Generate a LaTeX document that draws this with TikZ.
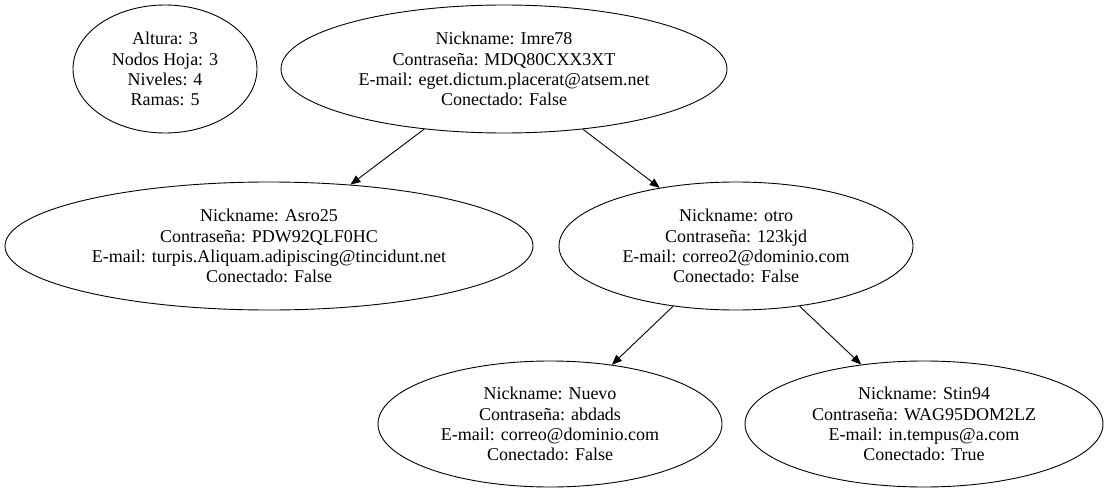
\documentclass[tikz,border=0pt]{standalone}
\usepackage{fontspec}
\setmainfont{Liberation Serif}
\usetikzlibrary{shapes.geometric,arrows.meta}
\begin{document}
\begin{tikzpicture}[x=1pt,y=1pt,
  nd/.style={draw,ellipse,line width=0.9pt,inner sep=0pt,align=center,
    minimum height=128,font=\fontsize{18}{20.2}\selectfont},
  edge/.style={draw,line width=0.9pt,-{Triangle[length=10pt,width=8pt]}}]
\useasboundingbox (0,0) rectangle (1107,491);
\node[nd,minimum width=184] (stats) at (165,422) {Altura: 3\\Nodos Hoja: 3\\Niveles: 4\\Ramas: 5};
\node[nd,minimum width=446] (root) at (504,422) {Nickname: Imre78\\Contraseña: MDQ80CXX3XT\\E-mail: eget.dictum.placerat@atsem.net\\Conectado: False};
\node[nd,minimum width=528] (asro) at (269,245) {Nickname: Asro25\\Contraseña: PDW92QLF0HC\\E-mail: turpis.Aliquam.adipiscing@tincidunt.net\\Conectado: False};
\node[nd,minimum width=354] (otro) at (736,245) {Nickname: otro\\Contraseña: 123kjd\\E-mail: correo2@dominio.com\\Conectado: False};
\node[nd,minimum width=344,minimum height=126] (nuevo) at (550,67) {Nickname: Nuevo\\Contraseña: abdads\\E-mail: correo@dominio.com\\Conectado: False};
\node[nd,minimum width=358,minimum height=126] (stin) at (924,67) {Nickname: Stin94\\Contraseña: WAG95DOM2LZ\\E-mail: in.tempus@a.com\\Conectado: True};
\draw[edge] (root) -- (asro);
\draw[edge] (root) -- (otro);
\draw[edge] (otro) -- (nuevo);
\draw[edge] (otro) -- (stin);
\end{tikzpicture}
\end{document}
